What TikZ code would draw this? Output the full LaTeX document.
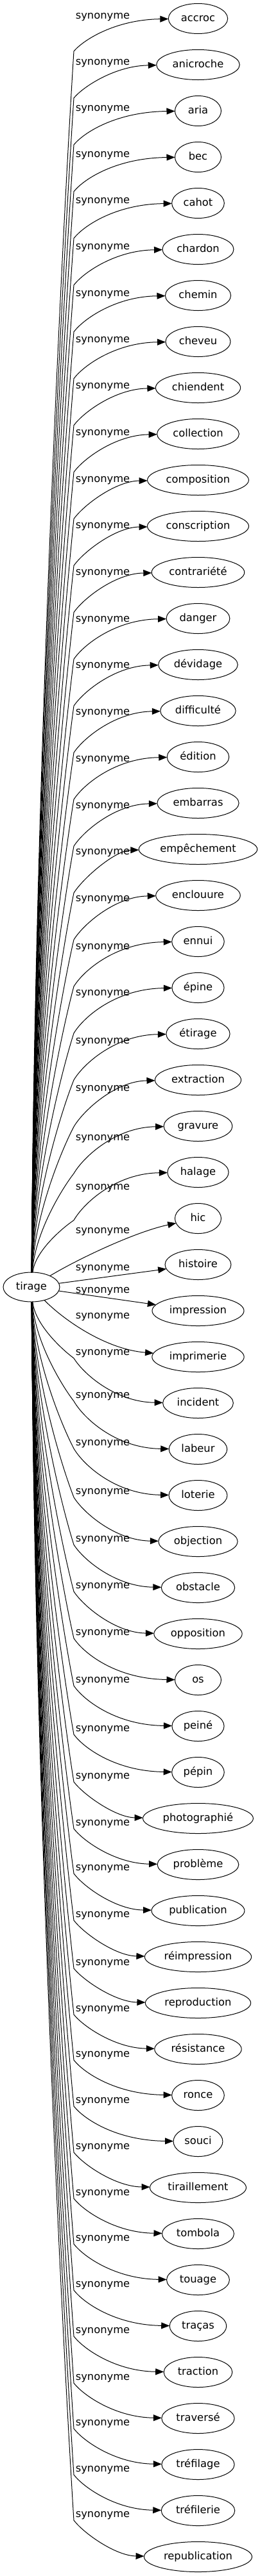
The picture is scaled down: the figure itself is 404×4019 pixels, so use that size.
\documentclass[tikz,border=0pt]{standalone}
\usepackage{fontspec}
\setmainfont{DejaVu Sans}
\usetikzlibrary{positioning,shapes.geometric,arrows.meta}

\begin{document}
\begin{tikzpicture}[x=0.75pt,y=-0.75pt,font=\fontsize{12.25pt}{14pt}\selectfont,line width=0.75pt,node distance=18.75pt,
	root/.style={ellipse,draw,inner xsep=5pt,minimum width=66pt,minimum height=34.5pt,outer sep=0pt,text height=9.2pt,text depth=2.6pt},
	leaf/.style={ellipse,draw,inner xsep=4.5pt,inner ysep=3pt,minimum width=54pt,minimum height=35.25pt,outer sep=0pt,text height=9.2pt,text depth=2.6pt},
	syn/.style={inner sep=0pt,text height=6.7pt,text depth=2.9pt},
	arc/.style={-{Triangle[length=9.75pt,width=7.5pt]}}]
		\useasboundingbox (0,0) rectangle (404,4019);

		\node[root]							(t)		at (49,2008)		{tirage};

		\node[leaf]							(1)		at (308.5,29)		{accroc};
		\node[leaf,below=of 1]				(2)		{anicroche};
		\node[leaf,below=of 2]				(3)		{aria};
		\node[leaf,below=of 3]				(4)		{bec};
		\node[leaf,below=of 4]				(5)		{cahot};
		\node[leaf,below=of 5]				(6)		{chardon};
		\node[leaf,below=of 6]				(7)		{chemin};
		\node[leaf,below=of 7]				(8)		{cheveu};
		\node[leaf,below=of 8]				(9)		{chiendent};
		\node[leaf,below=of 9]				(10)	{collection};
		\node[leaf,below=of 10]				(11)	{composition};
		\node[leaf,below=of 11]				(12)	{conscription};
		\node[leaf,below=of 12]				(13)	{contrariété};
		\node[leaf,below=of 13]				(14)	{danger};
		\node[leaf,below=of 14]				(15)	{dévidage};
		\node[leaf,below=of 15]				(16)	{difficulté};
		\node[leaf,below=of 16]				(17)	{édition};
		\node[leaf,below=of 17]				(18)	{embarras};
		\node[leaf,below=of 18]				(19)	{empêchement};
		\node[leaf,below=of 19]				(20)	{enclouure};
		\node[leaf,below=of 20]				(21)	{ennui};
		\node[leaf,below=of 21]				(22)	{épine};
		\node[leaf,below=of 22]				(23)	{étirage};
		\node[leaf,below=of 23]				(24)	{extraction};
		\node[leaf,below=of 24]				(25)	{gravure};
		\node[leaf,below=of 25]				(26)	{halage};
		\node[leaf,below=of 26]				(27)	{hic};
		\node[leaf,below=of 27]				(28)	{histoire};
		\node[leaf,below=of 28]				(29)	{impression};
		\node[leaf,below=of 29]				(30)	{imprimerie};
		\node[leaf,below=of 30]				(31)	{incident};
		\node[leaf,below=of 31]				(32)	{labeur};
		\node[leaf,below=of 32]				(33)	{loterie};
		\node[leaf,below=of 33]				(34)	{objection};
		\node[leaf,below=of 34]				(35)	{obstacle};
		\node[leaf,below=of 35]				(36)	{opposition};
		\node[leaf,below=of 36]				(37)	{os};
		\node[leaf,below=of 37]				(38)	{peiné};
		\node[leaf,below=of 38]				(39)	{pépin};
		\node[leaf,below=of 39]				(40)	{photographié};
		\node[leaf,below=of 40]				(41)	{problème};
		\node[leaf,below=of 41]				(42)	{publication};
		\node[leaf,below=of 42]				(43)	{réimpression};
		\node[leaf,below=of 43]				(44)	{reproduction};
		\node[leaf,below=of 44]				(45)	{résistance};
		\node[leaf,below=of 45]				(46)	{ronce};
		\node[leaf,below=of 46]				(47)	{souci};
		\node[leaf,below=of 47]				(48)	{tiraillement};
		\node[leaf,below=of 48]				(49)	{tombola};
		\node[leaf,below=of 49]				(50)	{touage};
		\node[leaf,below=of 50]				(51)	{traças};
		\node[leaf,below=of 51]				(52)	{traction};
		\node[leaf,below=of 52]				(53)	{traversé};
		\node[leaf,below=of 53]				(54)	{tréfilage};
		\node[leaf,below=of 54]				(55)	{tréfilerie};
		\node[leaf,below=of 55]				(56)	{republication};

		% upper fan
		\foreach \j/\dy in {1/-2,2/-2,3/-2,4/-2,5/-2,6/-2,7/-1.5,8/-1.5,9/-1,10/-0.3,11/0.5,12/1.2,13/1.9,14/2.6,15/3.4,16/4.1,17/4.8,18/5.5,19/6.3,20/7,21/10,22/10,23/13,24/15,25/20,26/25}{
			\pgfmathsetmacro\yc{72*\j-43}
			\pgfmathsetmacro\ly{\yc+(\dy)}
			\pgfmathsetmacro\kn{\yc+51+0.95*(\j-1)}
			\pgfmathsetmacro\ca{1985-0.4*(1985-\kn)}
			\pgfmathsetmacro\cb{\kn+0.15*(1985-\kn)}
			\pgfmathsetmacro\cc{\kn-0.35*(\kn-\yc)}
			\pgfmathsetmacro\cd{\yc+1.5}
			\coordinate (k\j) at (115,\kn);
			\node[syn]	(l\j)	at (160,\ly)	{synonyme};
			\draw[arc] (t) .. controls (54,\ca) and (97,\cb) .. (k\j)
				.. controls (130,\cc) and (180,\cd) .. (\j);
		}

		% next to the root
		\node[syn]	(l27)	at (160,1922)	{synonyme};
		\node[syn]	(l28)	at (160,1980)	{synonyme};
		\node[syn]	(l29)	at (160,2015)	{synonyme};
		\node[syn]	(l30)	at (160,2055)	{synonyme};
		\draw[arc] (t) .. controls (120,1965) and (210,1922) .. (27);
		\draw[arc] (t) -- (28);
		\draw[arc] (t) -- (29);
		\draw[arc] (t) .. controls (100,2060) and (165,2105) .. (30);

		% lower fan
		\foreach \j/\dy in {31/-77,32/-82,33/-80,34/-76,35/-74,36/-73,37/-72,38/-70,39/-66,40/-64,41/-63,42/-65,43/-64,44/-61,45/-61,46/-62,47/-62,48/-62,49/-62,50/-63,51/-63,52/-63,53/-62,54/-63,55/-63,56/-64}{
			\pgfmathsetmacro\yc{72*\j-43}
			\pgfmathsetmacro\ly{\yc+(\dy)}
			\pgfmathsetmacro\kn{\yc+(\dy)+7}
			\pgfmathsetmacro\ca{2031+0.4*(\kn-2031)}
			\pgfmathsetmacro\cb{\kn-0.15*(\kn-2031)}
			\pgfmathsetmacro\cc{\kn+0.35*(\yc-\kn)}
			\pgfmathsetmacro\cd{\yc-1.5}
			\coordinate (k\j) at (115,\kn);
			\node[syn]	(l\j)	at (160,\ly)	{synonyme};
			\draw[arc] (t) .. controls (54,\ca) and (97,\cb) .. (k\j)
				.. controls (130,\cc) and (180,\cd) .. (\j);
		}
	\end{tikzpicture}
\end{document}
